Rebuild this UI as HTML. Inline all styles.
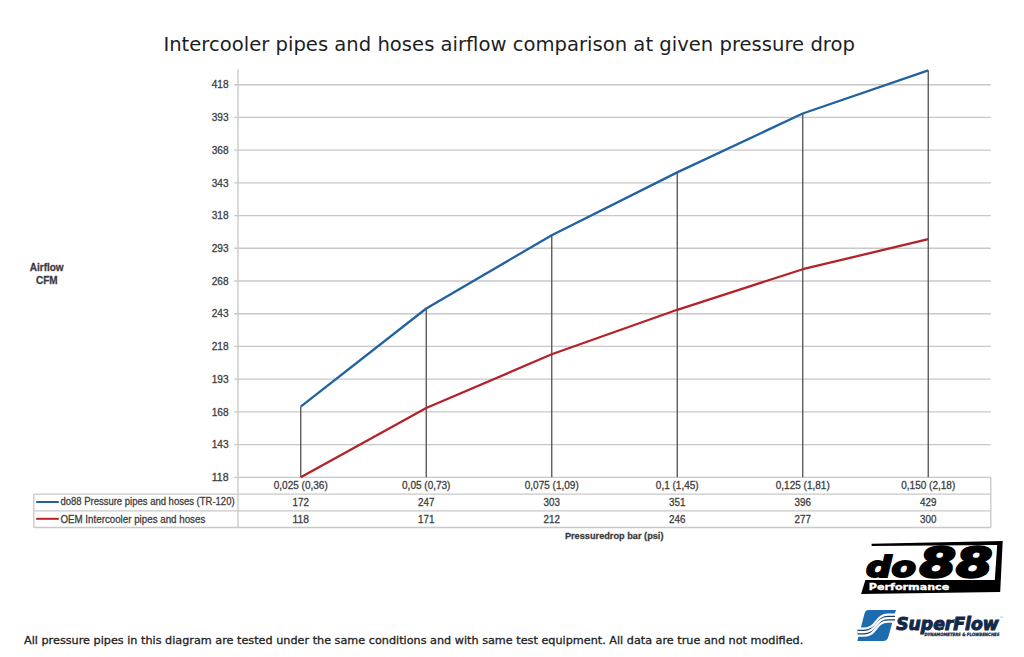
<!DOCTYPE html>
<html><head><meta charset="utf-8"><title>Intercooler pipes and hoses airflow comparison</title>
<style>
html,body{margin:0;padding:0;background:#fff;width:1024px;height:657px;overflow:hidden}
svg{display:block}
.ax{font-family:"Liberation Sans",Arial,sans-serif;fill:#3c3c3c;stroke:#3c3c3c;stroke-width:0.28px}
.vd{font-family:"DejaVu Sans",Verdana,sans-serif}
</style></head><body>
<svg width="1024" height="657" viewBox="0 0 1024 657">
<rect width="1024" height="657" fill="#fff"/>
<text class="vd" x="163.4" y="51.1" font-size="19.2" fill="#1e1e1e" textLength="691.5" lengthAdjust="spacingAndGlyphs">Intercooler pipes and hoses airflow comparison at given pressure drop</text>

<g stroke="#c8c8c8" stroke-width="1.35" fill="none">
<line x1="234.2" y1="84.70" x2="990.8" y2="84.70"/>
<line x1="234.2" y1="117.42" x2="990.8" y2="117.42"/>
<line x1="234.2" y1="150.13" x2="990.8" y2="150.13"/>
<line x1="234.2" y1="182.85" x2="990.8" y2="182.85"/>
<line x1="234.2" y1="215.57" x2="990.8" y2="215.57"/>
<line x1="234.2" y1="248.28" x2="990.8" y2="248.28"/>
<line x1="234.2" y1="281.00" x2="990.8" y2="281.00"/>
<line x1="234.2" y1="313.72" x2="990.8" y2="313.72"/>
<line x1="234.2" y1="346.43" x2="990.8" y2="346.43"/>
<line x1="234.2" y1="379.15" x2="990.8" y2="379.15"/>
<line x1="234.2" y1="411.87" x2="990.8" y2="411.87"/>
<line x1="234.2" y1="444.58" x2="990.8" y2="444.58"/>
<line x1="234.2" y1="477.30" x2="990.8" y2="477.30"/>
<line x1="238" y1="69.4" x2="238" y2="527.5"/>
<line x1="33.8" y1="494.1" x2="990.8" y2="494.1"/>
<line x1="33.8" y1="510.9" x2="990.8" y2="510.9"/>
<line x1="33.8" y1="527.5" x2="990.8" y2="527.5"/>
<line x1="33.8" y1="494.1" x2="33.8" y2="527.5"/>
<line x1="990.8" y1="477.3" x2="990.8" y2="527.5"/>
</g>
<g class="ax" text-anchor="end" font-size="10.5">
<text x="228.6" y="88.40" textLength="16.9" lengthAdjust="spacingAndGlyphs">418</text>
<text x="228.6" y="121.12" textLength="16.9" lengthAdjust="spacingAndGlyphs">393</text>
<text x="228.6" y="153.83" textLength="16.9" lengthAdjust="spacingAndGlyphs">368</text>
<text x="228.6" y="186.55" textLength="16.9" lengthAdjust="spacingAndGlyphs">343</text>
<text x="228.6" y="219.27" textLength="16.9" lengthAdjust="spacingAndGlyphs">318</text>
<text x="228.6" y="251.98" textLength="16.9" lengthAdjust="spacingAndGlyphs">293</text>
<text x="228.6" y="284.70" textLength="16.9" lengthAdjust="spacingAndGlyphs">268</text>
<text x="228.6" y="317.42" textLength="16.9" lengthAdjust="spacingAndGlyphs">243</text>
<text x="228.6" y="350.13" textLength="16.9" lengthAdjust="spacingAndGlyphs">218</text>
<text x="228.6" y="382.85" textLength="16.9" lengthAdjust="spacingAndGlyphs">193</text>
<text x="228.6" y="415.57" textLength="16.9" lengthAdjust="spacingAndGlyphs">168</text>
<text x="228.6" y="448.28" textLength="16.9" lengthAdjust="spacingAndGlyphs">143</text>
<text x="228.6" y="481.00" textLength="16.9" lengthAdjust="spacingAndGlyphs">118</text>
</g>
<g stroke="#505050" stroke-width="1.3">
<line x1="300.75" y1="406.63" x2="300.75" y2="477.3"/>
<line x1="426.25" y1="308.48" x2="426.25" y2="477.3"/>
<line x1="551.75" y1="235.20" x2="551.75" y2="477.3"/>
<line x1="677.25" y1="172.38" x2="677.25" y2="477.3"/>
<line x1="802.75" y1="113.49" x2="802.75" y2="477.3"/>
<line x1="928.25" y1="70.30" x2="928.25" y2="477.3"/>
</g>
<polyline points="300.75,406.63 426.25,308.48 551.75,235.20 677.25,172.38 802.75,113.49 928.25,70.30" fill="none" stroke="#2262a0" stroke-width="2.3" stroke-linejoin="round"/>
<polyline points="300.75,477.30 426.25,407.94 551.75,354.29 677.25,309.79 802.75,269.22 928.25,239.12" fill="none" stroke="#b42228" stroke-width="2.3" stroke-linejoin="round"/>
<g class="ax" text-anchor="middle">
<text x="300.75" y="488.9" font-size="10">0,025 (0,36)</text>
<text x="426.25" y="488.9" font-size="10">0,05 (0,73)</text>
<text x="551.75" y="488.9" font-size="10">0,075 (1,09)</text>
<text x="677.25" y="488.9" font-size="10">0,1 (1,45)</text>
<text x="802.75" y="488.9" font-size="10">0,125 (1,81)</text>
<text x="928.25" y="488.9" font-size="10">0,150 (2,18)</text>
<text x="300.75" y="505.9" font-size="10.3" textLength="16.4" lengthAdjust="spacingAndGlyphs">172</text>
<text x="426.25" y="505.9" font-size="10.3" textLength="16.4" lengthAdjust="spacingAndGlyphs">247</text>
<text x="551.75" y="505.9" font-size="10.3" textLength="16.4" lengthAdjust="spacingAndGlyphs">303</text>
<text x="677.25" y="505.9" font-size="10.3" textLength="16.4" lengthAdjust="spacingAndGlyphs">351</text>
<text x="802.75" y="505.9" font-size="10.3" textLength="16.4" lengthAdjust="spacingAndGlyphs">396</text>
<text x="928.25" y="505.9" font-size="10.3" textLength="16.4" lengthAdjust="spacingAndGlyphs">429</text>
<text x="300.75" y="522.7" font-size="10.3" textLength="16.4" lengthAdjust="spacingAndGlyphs">118</text>
<text x="426.25" y="522.7" font-size="10.3" textLength="16.4" lengthAdjust="spacingAndGlyphs">171</text>
<text x="551.75" y="522.7" font-size="10.3" textLength="16.4" lengthAdjust="spacingAndGlyphs">212</text>
<text x="677.25" y="522.7" font-size="10.3" textLength="16.4" lengthAdjust="spacingAndGlyphs">246</text>
<text x="802.75" y="522.7" font-size="10.3" textLength="16.4" lengthAdjust="spacingAndGlyphs">277</text>
<text x="928.25" y="522.7" font-size="10.3" textLength="16.4" lengthAdjust="spacingAndGlyphs">300</text>
</g>
<line x1="36.2" y1="502" x2="58.8" y2="502" stroke="#2262a0" stroke-width="2"/>
<line x1="36.2" y1="518.8" x2="58.8" y2="518.8" stroke="#b42228" stroke-width="2"/>
<text class="ax" x="60.4" y="505.4" font-size="10.2" textLength="174.2" lengthAdjust="spacingAndGlyphs">do88 Pressure pipes and hoses (TR-120)</text>
<text class="ax" x="60.4" y="522.7" font-size="10.2" textLength="144.9" lengthAdjust="spacingAndGlyphs">OEM Intercooler pipes and hoses</text>
<text class="ax" x="614.2" y="539.3" font-size="9.3" font-weight="bold" text-anchor="middle" textLength="98.6" lengthAdjust="spacingAndGlyphs">Pressuredrop bar (psi)</text>
<text class="ax" x="46.7" y="270.5" font-size="10" font-weight="bold" text-anchor="middle">Airflow</text>
<text class="ax" x="46.8" y="283.6" font-size="10" font-weight="bold" text-anchor="middle">CFM</text>
<text class="vd" x="24" y="643.6" font-size="11.2" fill="#222" stroke="#222" stroke-width="0.3" textLength="779.3" lengthAdjust="spacingAndGlyphs">All pressure pipes in this diagram are tested under the same conditions and with same test equipment. All data are true and not modified.</text>
<g id="do88">
<polygon points="871.6,543.7 1002.7,541.1 1000.2,591.9 861.1,594.1 865.4,580 994.8,580 997.2,544.9 871.6,546.1" fill="#000"/>
<text x="866" y="577" font-family="'DejaVu Sans',sans-serif" font-weight="bold" font-style="italic" font-size="29" fill="#000" stroke="#000" stroke-width="2" textLength="50" lengthAdjust="spacingAndGlyphs">do</text>
<text x="919.5" y="577" font-family="'DejaVu Sans',sans-serif" font-weight="bold" font-style="italic" font-size="40.8" fill="#000" stroke="#000" stroke-width="2.4" textLength="73" lengthAdjust="spacingAndGlyphs">88</text>
<text x="868.8" y="589.6" font-family="'DejaVu Sans',sans-serif" font-weight="bold" font-size="8.7" fill="#fff" stroke="#fff" stroke-width="0.35" textLength="80.5" lengthAdjust="spacingAndGlyphs">Performance</text>
</g>
<g id="superflow">
<path d="M868.6,610 L895.9,610 L888.2,637.2 Q887.2,640.9 883.2,640.9 L857.3,640.9 L864.6,613.2 Q865.5,610 868.6,610 Z" fill="#1d6cb0"/>
<path d="M857.6,632.15 L864,632.15 C877,632.15 875,618.15 888,618.15 L895,618.15" fill="none" stroke="#173f6c" stroke-width="6.2"/>
<path d="M857.6,628.60 L864,628.60 C877,628.60 875,614.60 888,614.60 L895,614.60" fill="none" stroke="#fff" stroke-width="2.2"/>
<path d="M857.6,632.15 L864,632.15 C877,632.15 875,618.15 888,618.15 L895,618.15" fill="none" stroke="#fff" stroke-width="2.2"/>
<path d="M857.6,635.70 L864,635.70 C877,635.70 875,621.70 888,621.70 L895,621.70" fill="none" stroke="#fff" stroke-width="2.2"/>
<text x="896.2" y="629.5" font-family="'DejaVu Sans',sans-serif" font-weight="bold" font-style="italic" font-size="17" fill="#11294a" stroke="#11294a" stroke-width="1.0" textLength="102.5" lengthAdjust="spacingAndGlyphs">SuperFlow</text>
<text x="924.5" y="636" font-family="'DejaVu Sans',sans-serif" font-weight="bold" font-style="italic" font-size="4.4" fill="#142d4c" stroke="#142d4c" stroke-width="0.3" textLength="75" lengthAdjust="spacingAndGlyphs">DYNAMOMETERS &amp; FLOWBENCHES</text>
<text x="1000" y="619" font-family="'DejaVu Sans',sans-serif" font-size="3" fill="#142d4c">™</text>
</g>
</svg></body></html>
